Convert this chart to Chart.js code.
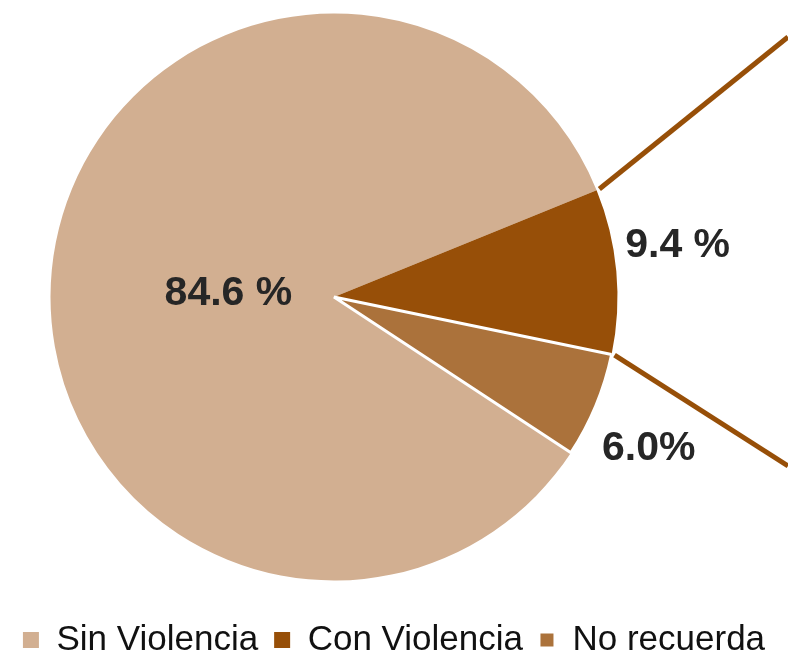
<!DOCTYPE html>
<html>
<head>
<meta charset="utf-8">
<script src="https://cdn.jsdelivr.net/npm/chart.js@4.4.1/dist/chart.umd.min.js"></script>
<style>
html, body { margin: 0; padding: 0; background: #fff; overflow: hidden; }
</style>
</head>
<body>
<canvas id="pieChart" width="788" height="655"></canvas>
<script>

// Chart data
const categories = ["Sin Violencia", "Con Violencia", "No recuerda"];
const percentages = [84.6, 9.4, 6.0];
const valueLabels = ["84.6 %", "9.4 %", "6.0%"];
const sliceColors = ["#D2AF91", "#974F08", "#AB723B"];

const FONT = "'Liberation Sans', Arial, sans-serif";

// put the pie left of centre (room for the leader lines) and push the legend down
const placePie = {
	id: "placePie",
	afterLayout(chart){
		let area = chart.chartArea;
		area.left = 49; area.right = 619;
		area.top = 12; area.bottom = 582;
		area.width = 570; area.height = 570;
		let shift = 640 - (chart.legend.top + 16 + 17.5);
		chart.legend.top += shift;
		chart.legend.bottom += shift;
	}
};

// Percent labels + leader lines from the "Con Violencia" slice
const sliceText = {
	id: "sliceText",
	afterDatasetsDraw(chart){
		const ctx = chart.ctx;
		const arcs = chart.getDatasetMeta(0).data;
		ctx.save();

		const con = arcs[1];
		ctx.strokeStyle = sliceColors[1];
		ctx.lineWidth = 5;
		[[con.startAngle, 37], [con.endAngle, 466]].forEach(([a, yEnd]) => {
			let r = con.outerRadius + 3;
			ctx.beginPath();
			ctx.moveTo(con.x + r * Math.cos(a), con.y + r * Math.sin(a));
			ctx.lineTo(chart.width, yEnd);
			ctx.stroke();
		});

		// radius factor, angle shift (deg) from the slice middle
		const spots = [[0.373, -2.4], [1.227, -3.7], [1.229, 2.9]];
		ctx.font = "bold 41px " + FONT;
		ctx.fillStyle = "#262626";
		ctx.textAlign = "center";
		ctx.textBaseline = "alphabetic";
		arcs.forEach((arc, i) => {
			let mid = (arc.startAngle + arc.endAngle) / 2 + spots[i][1] * Math.PI / 180;
			let r = arc.outerRadius * spots[i][0];
			let x = arc.x + r * Math.cos(mid);
			let y = arc.y + r * Math.sin(mid);
			ctx.fillText(valueLabels[i], x, y + 14);
		});
		ctx.restore();
	}
};

const pieCtx = document.getElementById("pieChart").getContext("2d");
new Chart(pieCtx, {
	type: "pie",
	data: {
		labels: categories,
		datasets: [{
			data: percentages,
			backgroundColor: sliceColors,
			borderColor: "#fff",
			borderWidth: [0, 0, 3],
			hoverOffset: 0
		}]
	},
	options: {
		responsive: false,
		animation: false,
		rotation: 123.3,
		plugins: {
			legend: {
				position: "bottom",
				labels: {
					boxWidth: 16,
					boxHeight: 16,
					padding: 16,
					color: "#111",
					font: { family: FONT, size: 35 }
				}
			},
			tooltip: { enabled: false }
		}
	},
	plugins: [placePie, sliceText]
});

</script>
</body>
</html>
